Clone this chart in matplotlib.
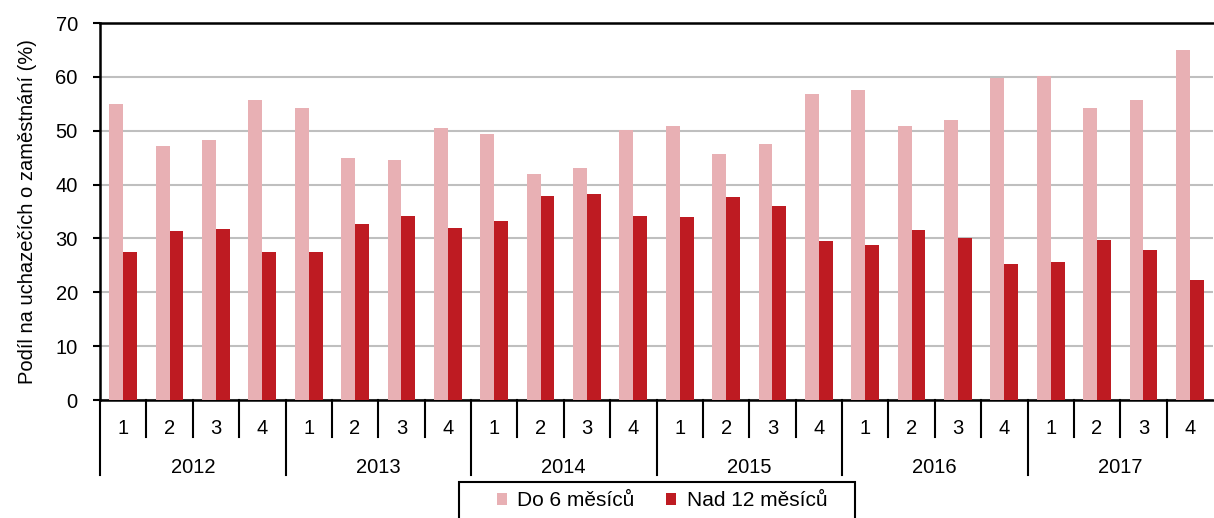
import matplotlib.pyplot as plt
import matplotlib.transforms as mtransforms
from matplotlib.patches import Rectangle
import numpy as np

roky = ["2012", "2013", "2014", "2015", "2016", "2017"]
ctvrtleti = ["1", "2", "3", "4"]

do_6_mesicu = [54.9, 47.2, 48.3, 55.7,
               54.2, 44.9, 44.6, 50.5,
               49.4, 42.0, 43.1, 50.1,
               50.9, 45.7, 47.5, 56.8,
               57.6, 50.9, 52.0, 59.8,
               60.2, 54.2, 55.7, 65.0]
nad_12_mesicu = [27.5, 31.3, 31.7, 27.5,
                 27.5, 32.7, 34.2, 32.0,
                 33.2, 37.9, 38.3, 34.2,
                 33.9, 37.6, 36.1, 29.5,
                 28.7, 31.6, 30.1, 25.3,
                 25.7, 29.8, 27.9, 22.3]

plt.rcParams['font.family'] = ['Liberation Sans', 'DejaVu Sans']

fig = plt.figure(figsize=(12.14, 5.18), dpi=100)
ax = fig.add_axes([100 / 1214, 118 / 518, 1113 / 1214, 377 / 518])

x = np.arange(len(do_6_mesicu))
sirka = 0.3
ax.bar(x - sirka / 2, do_6_mesicu, sirka, color="#E8B0B4", label="Do 6 měsíců", zorder=3)
ax.bar(x + sirka / 2, nad_12_mesicu, sirka, color="#BE1B22", label="Nad 12 měsíců", zorder=3)

ax.set_xlim(-0.5, len(x) - 0.5)
ax.set_ylim(0, 70)
ax.set_yticks(range(0, 71, 10))
ax.yaxis.grid(True, color="#BFBFBF", linewidth=1.5, zorder=0)
ax.set_axisbelow(True)

ax.spines["right"].set_visible(False)
for s in ["left", "bottom", "top"]:
    ax.spines[s].set_linewidth(1.8)
    ax.spines[s].set_color("black")

ax.tick_params(axis="y", labelsize=14.5, length=5, width=1.5, pad=11)
ax.set_xticks([])
ax.set_ylabel("Podíl na uchazečích o zaměstnání (%)", fontsize=14.5, labelpad=13)

# popisky čtvrtletí a roků pod osou
trans = mtransforms.blended_transform_factory(ax.transData, ax.transAxes)
for i in range(len(x)):
    ax.text(i, -0.075, ctvrtleti[i % 4], transform=trans, ha="center", va="center", fontsize=14.5)
for r, rok in enumerate(roky):
    ax.text(r * 4 + 1.5, -0.178, rok, transform=trans, ha="center", va="center", fontsize=14.5)
for i in range(len(x)):
    hranice = i - 0.5
    konec = -0.199 if i % 4 == 0 else -0.098
    ax.plot([hranice, hranice], [0, konec], transform=trans, color="black",
            linewidth=1.5, clip_on=False)

# rámeček legendy
fig.patches.append(Rectangle((459 / 1214, -0.01), 396 / 1214, (518 - 482) / 518 + 0.01,
                             transform=fig.transFigure, fill=False, edgecolor="black",
                             linewidth=1.5))
leg = fig.legend(loc="center", bbox_to_anchor=(662 / 1214, (518 - 501) / 518), ncol=2,
                 fontsize=15, frameon=False, handlelength=0.5, handleheight=0.5,
                 handletextpad=0.5, columnspacing=1.5, borderpad=0)

fig.savefig("out.png", dpi=100)
